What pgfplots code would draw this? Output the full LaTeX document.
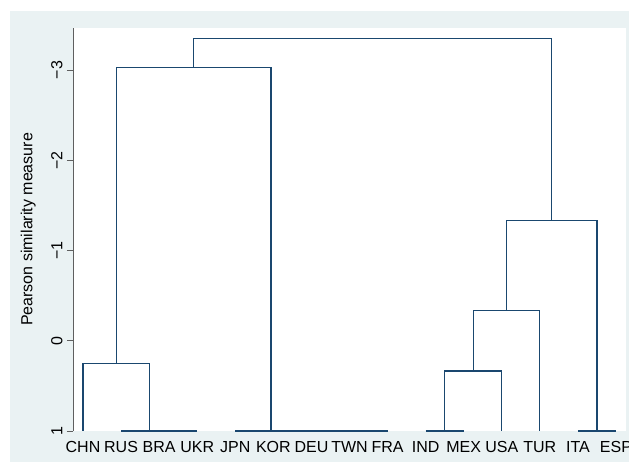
\documentclass[border=0pt]{standalone}
\usepackage{fontspec}
\setmainfont{Liberation Sans}
\usepackage{pgfplots}
\pgfplotsset{compat=1.18}

\definecolor{treeline}{RGB}{26,71,111}
\definecolor{regionbg}{RGB}{234,242,243}
\definecolor{axisgray}{RGB}{95,95,95}

\begin{document}
\begin{tikzpicture}
% canvas: 471.75pt x 347.25pt
\path[use as bounding box] (0pt,0pt) rectangle (471.75pt,347.25pt);
\fill[regionbg] (7.5pt,0.75pt) rectangle (471.75pt,339pt);
\begin{axis}[
  at={(54.75pt,24pt)}, anchor=south west,
  scale only axis, width=414.75pt, height=302.25pt,
  axis background/.style={fill=white},
  axis line style={draw=none},
  xmin=0.737, xmax=15.263,
  ymin=-3.465, ymax=1, y dir=reverse,
  xtick={1,...,15},
  xticklabels={CHN,RUS,BRA,UKR,JPN,KOR,DEU,TWN,FRA,IND,MEX,USA,TUR,ITA,ESP},
  xtick style={draw=none},
  ytick={-3,-2,-1,0,1},
  yticklabels={−3,−2,−1,0,1},
  ytick pos=left,
  tick align=outside,
  major tick length=4.5pt,
  ytick style={axisgray, line width=0.6pt},
  ticklabel style={font=\fontsize{12}{14}\selectfont, text=black},
  yticklabel style={rotate=90, anchor=base},
  yticklabel shift=3.5pt,
  xticklabel style={anchor=north},
  ylabel={Pearson similarity measure},
  ylabel style={font=\fontsize{12}{14}\selectfont, rotate=0, anchor=base,
    at={(axis description cs:-0.0735,0.5)}},
  clip=false,
  every axis plot post/.append style={treeline, solid, line width=0.9pt, mark=none},
]
% y axis line
\draw[axisgray, line width=0.6pt] (rel axis cs:0,0) -- (rel axis cs:0,1);
% joins at similarity 1 (identical profiles)
\addplot coordinates {(3,1) (4,1)};
\addplot coordinates {(2,1) (3.5,1)};
\addplot coordinates {(8,1) (9,1)};
\addplot coordinates {(7,1) (8.5,1)};
\addplot coordinates {(6,1) (7.75,1)};
\addplot coordinates {(5,1) (6.875,1)};
\addplot coordinates {(10,1) (11,1)};
\addplot coordinates {(14,1) (15,1)};
% higher-level joins
\addplot coordinates {(1,1) (1,0.25) (2.75,0.25) (2.75,1)};
\addplot coordinates {(1.875,0.25) (1.875,-3.026) (5.9375,-3.026) (5.9375,1)};
\addplot coordinates {(10.5,1) (10.5,0.335) (12,0.335) (12,1)};
\addplot coordinates {(11.25,0.335) (11.25,-0.333) (13,-0.333) (13,1)};
\addplot coordinates {(12.125,-0.333) (12.125,-1.33) (14.5,-1.33) (14.5,1)};
\addplot coordinates {(3.90625,-3.026) (3.90625,-3.351) (13.3125,-3.351) (13.3125,-1.33)};
\end{axis}
\end{tikzpicture}
\end{document}
